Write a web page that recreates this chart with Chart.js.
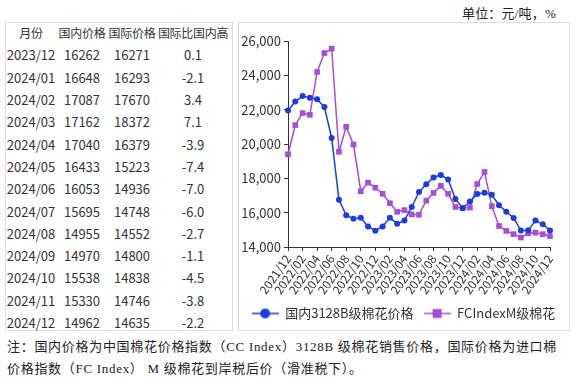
<!DOCTYPE html>
<html><head><meta charset="utf-8">
<script src="https://cdn.jsdelivr.net/npm/chart.js@4"></script>
<style>
html,body{margin:0;padding:0;background:#fff;width:576px;height:379px;overflow:hidden;}
#unit{position:absolute;right:20px;top:3px;font:13px "Liberation Serif","Noto Sans CJK SC";color:#222;letter-spacing:0.2px;}
#tbox{position:absolute;left:5px;top:22px;width:228px;height:309px;border:1px solid #ddd;box-sizing:border-box;}
#tbl{position:absolute;left:5px;top:22px;border-collapse:collapse;font-family:"Noto Sans CJK SC",sans-serif;color:#333;}
#tbl td{padding:0;height:22.3px;text-align:center;font-size:13px;line-height:22px;white-space:nowrap;}
#tbl tr.h td{font-size:12px;letter-spacing:-0.3px;}
#cbox{position:absolute;left:238px;top:22px;width:332px;height:309px;border:1px solid #ddd;box-sizing:border-box;}
#cwrap{position:absolute;left:238px;top:23px;width:331px;height:307px;}
.note{position:absolute;left:7px;font:13px "Liberation Serif","Noto Sans CJK SC";color:#222;letter-spacing:0.7px;white-space:nowrap;}
</style></head>
<body>
<div id="unit">单位：元/吨，%</div>
<div id="tbox"></div>
<table id="tbl"></table>
<div id="cbox"></div>
<div id="cwrap"><canvas id="c" width="331" height="307"></canvas></div>
<div class="note" style="top:336px">注：国内价格为中国棉花价格指数（CC Index）3128B 级棉花销售价格，国际价格为进口棉</div>
<div class="note" style="top:358px">价格指数（FC Index） M 级棉花到岸税后价（滑准税下）。</div>
<script>
const tableHeader = ['月份','国内价格','国际价格','国际比国内高'];
const tableMonths = ['2023/12','2024/01','2024/02','2024/03','2024/04','2024/05','2024/06','2024/07','2024/08','2024/09','2024/10','2024/11','2024/12'];
const tableDomestic = [16262,16648,17087,17162,17040,16433,16053,15695,14955,14970,15538,15330,14962];
const tableIntl = [16271,16293,17670,18372,16379,15223,14936,14748,14552,14800,14838,14746,14635];
const tableDiff = ['0.1','-2.1','3.4','7.1','-3.9','-7.4','-7.0','-6.0','-2.7','-1.1','-4.5','-3.8','-2.2'];

const months = ['2021/12','2022/01','2022/02','2022/03','2022/04','2022/05','2022/06','2022/07','2022/08','2022/09','2022/10','2022/11',
'2022/12','2023/01','2023/02','2023/03','2023/04','2023/05','2023/06','2023/07','2023/08','2023/09','2023/10','2023/11',
'2023/12','2024/01','2024/02','2024/03','2024/04','2024/05','2024/06','2024/07','2024/08','2024/09','2024/10','2024/11','2024/12'];
const domestic = [21950,22480,22790,22700,22600,22150,20350,16750,15850,15650,15700,15200,
14950,15200,15700,15350,15550,16330,17200,17650,18050,18200,17930,16800,
16262,16648,17087,17162,17040,16433,16053,15695,14955,14970,15538,15330,14962];
const international = [19400,21100,21800,21700,24200,25300,25550,19550,21000,19970,17250,17750,
17450,17100,16550,16050,16150,15900,15880,16700,17150,17560,17100,16330,
16271,16293,17670,18372,16379,15223,14936,14748,14552,14800,14838,14746,14635];
const seriesNames = ['国内3128B级棉花价格','FCIndexM级棉花'];
const yTicks = {min:14000, max:26000, step:2000};

// build table
const tbl = document.getElementById('tbl');
const widths = [52,50,50,72];
let html = '<tr class="h">' + tableHeader.map((h,i)=>`<td style="width:${widths[i]}px">${h}</td>`).join('') + '</tr>';
tableMonths.forEach((m,i)=>{
  html += `<tr><td>${m}</td><td>${tableDomestic[i]}</td><td>${tableIntl[i]}</td><td>${tableDiff[i]}</td></tr>`;
});
tbl.innerHTML = html;

const BLUE = '#1c3ce0', PURPLE = '#a64fd6';
const ICON_W = 27;
function legendIcon(color, style){
  const c = document.createElement('canvas'); c.width = ICON_W; c.height = 12;
  const g = c.getContext('2d');
  g.strokeStyle = color; g.lineWidth = 1.5;
  g.beginPath(); g.moveTo(0,6); g.lineTo(ICON_W,6); g.stroke();
  g.fillStyle = color;
  if (style === 'circle'){ g.beginPath(); g.arc(ICON_W/2,6,5,0,Math.PI*2); g.fill(); }
  else { g.fillRect(ICON_W/2-4.5,1.5,9,9); }
  return c;
}
const icons = [legendIcon(BLUE,'circle'), legendIcon(PURPLE,'rect')];
const FONT = '"Noto Sans CJK SC", sans-serif';

new Chart(document.getElementById('c'), {
  type:'line',
  data:{
    labels: months,
    datasets:[
      {label:seriesNames[0], data:domestic, borderColor:BLUE, backgroundColor:BLUE, borderWidth:1.5,
       pointStyle:'circle', pointRadius:3, pointBorderWidth:0, tension:0},
      {label:seriesNames[1], data:international, borderColor:PURPLE, backgroundColor:PURPLE, borderWidth:1.5,
       pointStyle:'rect', pointRadius:4, pointBorderWidth:0, tension:0}
    ]
  },
  options:{
    responsive:false, animation:false, devicePixelRatio:1,
    layout:{padding:{left:0, top:18, right:0, bottom:0}},
    font:{family:FONT},
    plugins:{
      tooltip:{enabled:false},
      legend:{position:'bottom',
        labels:{usePointStyle:true, pointStyleWidth:ICON_W, padding:10, color:'#333', font:{family:FONT,size:13},
          generateLabels:(chart)=>chart.data.datasets.map((ds,i)=>({text:ds.label, pointStyle:icons[i], fillStyle:ds.borderColor,
             strokeStyle:ds.borderColor, lineWidth:0, hidden:false, datasetIndex:i, fontColor:'#333'}))}}
    },
    scales:{
      x:{offset:false,
        afterFit:(s)=>{s.height = 50;},
        ticks:{autoSkip:false, minRotation:55, maxRotation:55, padding:1, color:'#333', font:{family:FONT,size:12},
          callback:(v,i)=> i%2 ? '' : months[i]},
        grid:{drawOnChartArea:false, tickLength:4, color:(ctx)=> (ctx.index%2 ? 'rgba(0,0,0,0)' : '#333')},
        border:{color:'#333', width:1}},
      y:{min:yTicks.min, max:yTicks.max,
        afterFit:(s)=>{s.width = 50;},
        ticks:{stepSize:yTicks.step, padding:3, color:'#333', font:{family:FONT,size:13},
          callback:(v)=>v.toLocaleString('en-US')},
        grid:{drawOnChartArea:false, tickLength:4, color:'#333'},
        border:{color:'#333', width:1}},
      spacer:{type:'linear', position:'right', display:true, min:0, max:1,
        afterFit:(s)=>{s.width = 19;},
        ticks:{display:false}, grid:{display:false}, border:{display:false}}
    }
  }
});
</script>
</body></html>
